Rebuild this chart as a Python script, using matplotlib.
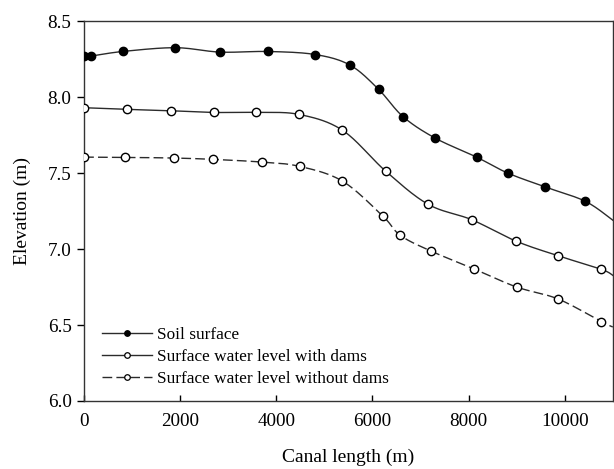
"""
Elevation profile along the canal: soil surface and surface water level
with and without dams.
"""
import matplotlib
matplotlib.use("Agg")
import matplotlib.pyplot as plt
import numpy as np
from matplotlib.lines import Line2D

# values (m); last entry of each series is
# where the curve leaves the plot at the right edge (no marker there)
soil_x = [0, 140, 800, 1900, 2830, 3830, 4810, 5535, 6130, 6640, 7305,
          8165, 8815, 9600, 10430, 11000]
soil_y = [8.27, 8.27, 8.30, 8.325, 8.296, 8.30, 8.28, 8.21, 8.05, 7.87,
          7.73, 7.605, 7.50, 7.408, 7.314, 7.19]

dams_x = [0, 900, 1805, 2705, 3585, 4470, 5375, 6280, 7160, 8065, 8980,
          9850, 10765, 11000]
dams_y = [7.93, 7.919, 7.91, 7.899, 7.899, 7.886, 7.782, 7.511, 7.294,
          7.193, 7.053, 6.957, 6.866, 6.827]

nodams_x = [0, 860, 1860, 2690, 3710, 4485, 5375, 6215, 6580, 7215, 8120,
            9000, 9865, 10765, 11000]
nodams_y = [7.605, 7.603, 7.599, 7.59, 7.572, 7.544, 7.447, 7.217, 7.09,
            6.987, 6.868, 6.75, 6.671, 6.522, 6.487]

x_ticks = [0, 2000, 4000, 6000, 8000, 10000]
y_ticks = [6.0, 6.5, 7.0, 7.5, 8.0, 8.5]

LINE_COLOR = "#2b2b2b"


def smooth(x, y, steps=20):
    """Catmull-Rom path through the points, like a spreadsheet 'smoothed line'."""
    pts = np.column_stack([x, y]).astype(float)
    # scale so both axes weigh about the same in the spline
    scale = np.array([11000.0, 2.5])
    p = pts / scale
    p = np.vstack([p[0], p, p[-1]])
    out = []
    t = np.linspace(0, 1, steps, endpoint=False)[:, None]
    for i in range(1, len(p) - 2):
        p0, p1, p2, p3 = p[i - 1], p[i], p[i + 1], p[i + 2]
        seg = 0.5 * ((2 * p1) + (-p0 + p2) * t
                     + (2 * p0 - 5 * p1 + 4 * p2 - p3) * t ** 2
                     + (-p0 + 3 * p1 - 3 * p2 + p3) * t ** 3)
        out.append(seg)
    out.append(p[-2][None, :])
    res = np.vstack(out) * scale
    return res[:, 0], res[:, 1]


plt.rcParams["font.family"] = ["Liberation Serif", "DejaVu Serif"]
plt.rcParams["font.size"] = 14

fig = plt.figure(figsize=(6.14, 4.69), dpi=100)
ax = fig.add_axes([0.137, 0.145, 0.861, 0.81])

series = [
    (soil_x, soil_y, "-", "black", "Soil surface"),
    (dams_x, dams_y, "-", "white", "Surface water level with dams"),
    (nodams_x, nodams_y, (0, (7, 3)), "white", "Surface water level without dams"),
]

handles = []
for xs, ys, ls, face, label in series:
    sx, sy = smooth(xs, ys)
    ax.plot(sx, sy, color=LINE_COLOR, linestyle=ls, linewidth=1.0, zorder=2)
    ax.plot(xs[:-1], ys[:-1], linestyle="none", marker="o", markersize=6,
            markerfacecolor=face, markeredgecolor="black",
            markeredgewidth=1.0, zorder=3)
    handles.append(Line2D([], [], color=LINE_COLOR, linestyle=ls, linewidth=1.0,
                          marker="o", markersize=4, markerfacecolor=face,
                          markeredgecolor="black", markeredgewidth=0.9,
                          label=label))

ax.set_xlim(0, 11000)
ax.set_ylim(6.0, 8.5)
ax.set_xticks(x_ticks)
ax.set_yticks(y_ticks)
ax.set_yticklabels([f"{v:.1f}" for v in y_ticks])
ax.tick_params(axis="y", direction="out", length=5, width=1.0, colors="black",
               right=False, pad=4, labelsize=13.8)
ax.tick_params(axis="x", direction="in", length=4, width=1.0, colors="black",
               top=False, pad=9, labelsize=13.8)

for side in ["left", "bottom", "top", "right"]:
    ax.spines[side].set_linewidth(1.0)
    ax.spines[side].set_color("#333333")

ax.set_xlabel("Canal length (m)", labelpad=13)
ax.set_ylabel("Elevation (m)", labelpad=12)

ax.legend(handles=handles, loc="lower left", bbox_to_anchor=(0.034, 0.037),
          frameon=False, fontsize=12.4, handlelength=2.9, handletextpad=0.3,
          labelspacing=0.35, borderpad=0, borderaxespad=0)

fig.savefig("out.png", dpi=100)
